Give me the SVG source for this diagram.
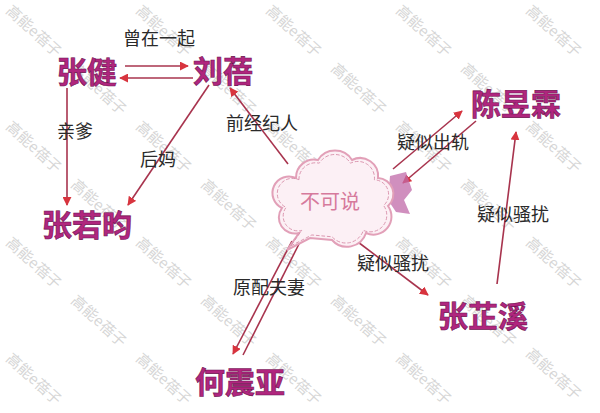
<svg xmlns="http://www.w3.org/2000/svg" width="600" height="413" viewBox="0 0 600 413">
<style>
.node{font-family:"Noto Sans CJK SC","Noto Sans",sans-serif;font-size:30px;font-weight:bold;fill:#b0267e;stroke:#6e1450;stroke-width:0.6;text-anchor:middle;dominant-baseline:central}
.lbl{font-family:"Noto Sans CJK SC","Noto Sans",sans-serif;font-size:18px;fill:#2a2a2a;text-anchor:middle;dominant-baseline:central}
.wm{font-family:"Noto Sans CJK SC","Noto Sans",sans-serif;font-size:15px;fill:#c4c4c4;fill-opacity:0.7}
.edge{stroke:#a8344e;stroke-width:1.6;fill:none}
.cloud-text{font-family:"Noto Sans CJK SC","Noto Sans",sans-serif;font-size:20px;fill:#d67a9c;text-anchor:middle;dominant-baseline:central}
</style>
<defs>
<marker id="arr" viewBox="0 0 10 10" refX="9" refY="5" markerWidth="9" markerHeight="9" markerUnits="userSpaceOnUse" orient="auto">
<path d="M0,0 L10,5 L0,10 z" fill="#d8343e"/>
</marker>
<path id="cloudp" d="M296 178 A18 18 0 0 1 318 160 A20 20 0 0 1 352 160 A18 18 0 0 1 378 178 A16 16 0 0 1 388 206 A18 18 0 0 1 366 233 A20 20 0 0 1 332 240 L310 238 L287 250 L299 233 A16 16 0 0 1 282 208 A16 16 0 0 1 296 178 Z"/>
</defs>
<rect width="600" height="413" fill="#ffffff"/>

<g id="watermarks">
<text class="wm" transform="translate(5,12) rotate(42)">高能e蓓子</text>
<text class="wm" transform="translate(135,12) rotate(42)">高能e蓓子</text>
<text class="wm" transform="translate(265,12) rotate(42)">高能e蓓子</text>
<text class="wm" transform="translate(395,12) rotate(42)">高能e蓓子</text>
<text class="wm" transform="translate(525,12) rotate(42)">高能e蓓子</text>
<text class="wm" transform="translate(70,70) rotate(42)">高能e蓓子</text>
<text class="wm" transform="translate(200,70) rotate(42)">高能e蓓子</text>
<text class="wm" transform="translate(330,70) rotate(42)">高能e蓓子</text>
<text class="wm" transform="translate(460,70) rotate(42)">高能e蓓子</text>
<text class="wm" transform="translate(5,128) rotate(42)">高能e蓓子</text>
<text class="wm" transform="translate(135,128) rotate(42)">高能e蓓子</text>
<text class="wm" transform="translate(265,128) rotate(42)">高能e蓓子</text>
<text class="wm" transform="translate(395,128) rotate(42)">高能e蓓子</text>
<text class="wm" transform="translate(525,128) rotate(42)">高能e蓓子</text>
<text class="wm" transform="translate(70,186) rotate(42)">高能e蓓子</text>
<text class="wm" transform="translate(200,186) rotate(42)">高能e蓓子</text>
<text class="wm" transform="translate(330,186) rotate(42)">高能e蓓子</text>
<text class="wm" transform="translate(460,186) rotate(42)">高能e蓓子</text>
<text class="wm" transform="translate(5,244) rotate(42)">高能e蓓子</text>
<text class="wm" transform="translate(135,244) rotate(42)">高能e蓓子</text>
<text class="wm" transform="translate(265,244) rotate(42)">高能e蓓子</text>
<text class="wm" transform="translate(395,244) rotate(42)">高能e蓓子</text>
<text class="wm" transform="translate(525,244) rotate(42)">高能e蓓子</text>
<text class="wm" transform="translate(70,302) rotate(42)">高能e蓓子</text>
<text class="wm" transform="translate(200,302) rotate(42)">高能e蓓子</text>
<text class="wm" transform="translate(330,302) rotate(42)">高能e蓓子</text>
<text class="wm" transform="translate(460,302) rotate(42)">高能e蓓子</text>
<text class="wm" transform="translate(5,360) rotate(42)">高能e蓓子</text>
<text class="wm" transform="translate(135,360) rotate(42)">高能e蓓子</text>
<text class="wm" transform="translate(265,360) rotate(42)">高能e蓓子</text>
<text class="wm" transform="translate(395,360) rotate(42)">高能e蓓子</text>
<text class="wm" transform="translate(525,355) rotate(42)">高能e蓓子</text>
</g>

<g id="connectors">
<line class="edge" x1="125" y1="66" x2="188" y2="66" marker-end="url(#arr)"/>
<line class="edge" x1="193" y1="78" x2="120" y2="78" marker-end="url(#arr)"/>
<line class="edge" x1="67" y1="88" x2="67" y2="205" marker-end="url(#arr)"/>
<line class="edge" x1="209" y1="85" x2="128" y2="205" marker-end="url(#arr)"/>
<line class="edge" x1="288" y1="164" x2="230" y2="88" marker-end="url(#arr)"/>
<line class="edge" x1="393" y1="169" x2="462" y2="111" marker-end="url(#arr)"/>
<line class="edge" x1="476" y1="121" x2="403" y2="183" marker-end="url(#arr)"/>
<line class="edge" x1="497" y1="284" x2="516" y2="132" marker-end="url(#arr)"/>
<line class="edge" x1="350" y1="236" x2="428" y2="295" marker-end="url(#arr)"/>
<line class="edge" x1="292" y1="241" x2="233" y2="354" marker-end="url(#arr)"/>
<line class="edge" x1="300" y1="242" x2="243" y2="355"/>
</g>

<g id="cloud">
<path d="M390 176 L406 172 L412 190 L404 200 L410 214 L396 212 L388 200 Z" fill="#c06aa8" fill-opacity="0.75"/>
<use href="#cloudp" fill="#fcf0f5" stroke="#e2a0b8" stroke-width="2"/>
<use href="#cloudp" fill="none" stroke="#d890aa" stroke-width="1" stroke-dasharray="4 2" transform="translate(333 200) scale(0.92) translate(-333 -200)"/>
<text class="cloud-text" x="330" y="200">不可说</text>
</g>

<g id="n-zhangjian"><text class="node" x="87" y="70">张健</text></g>
<g id="n-liubei"><text class="node" x="223" y="69">刘蓓</text></g>
<g id="n-zhangruoyun"><text class="node" x="87" y="223">张若昀</text></g>
<g id="n-chenyulin"><text class="node" x="516" y="102">陈昱霖</text></g>
<g id="n-zhangzhixi"><text class="node" x="483" y="314">张芷溪</text></g>
<g id="n-hezhenya"><text class="node" x="240" y="380">何震亚</text></g>

<g id="labels">
<text class="lbl" x="159" y="37">曾在一起</text>
<text class="lbl" x="75" y="130">亲爹</text>
<text class="lbl" x="158" y="158">后妈</text>
<text class="lbl" x="262" y="122">前经纪人</text>
<text class="lbl" x="433" y="141">疑似出轨</text>
<text class="lbl" x="513" y="213">疑似骚扰</text>
<text class="lbl" x="393" y="262">疑似骚扰</text>
<text class="lbl" x="269" y="286">原配夫妻</text>
</g>
</svg>
